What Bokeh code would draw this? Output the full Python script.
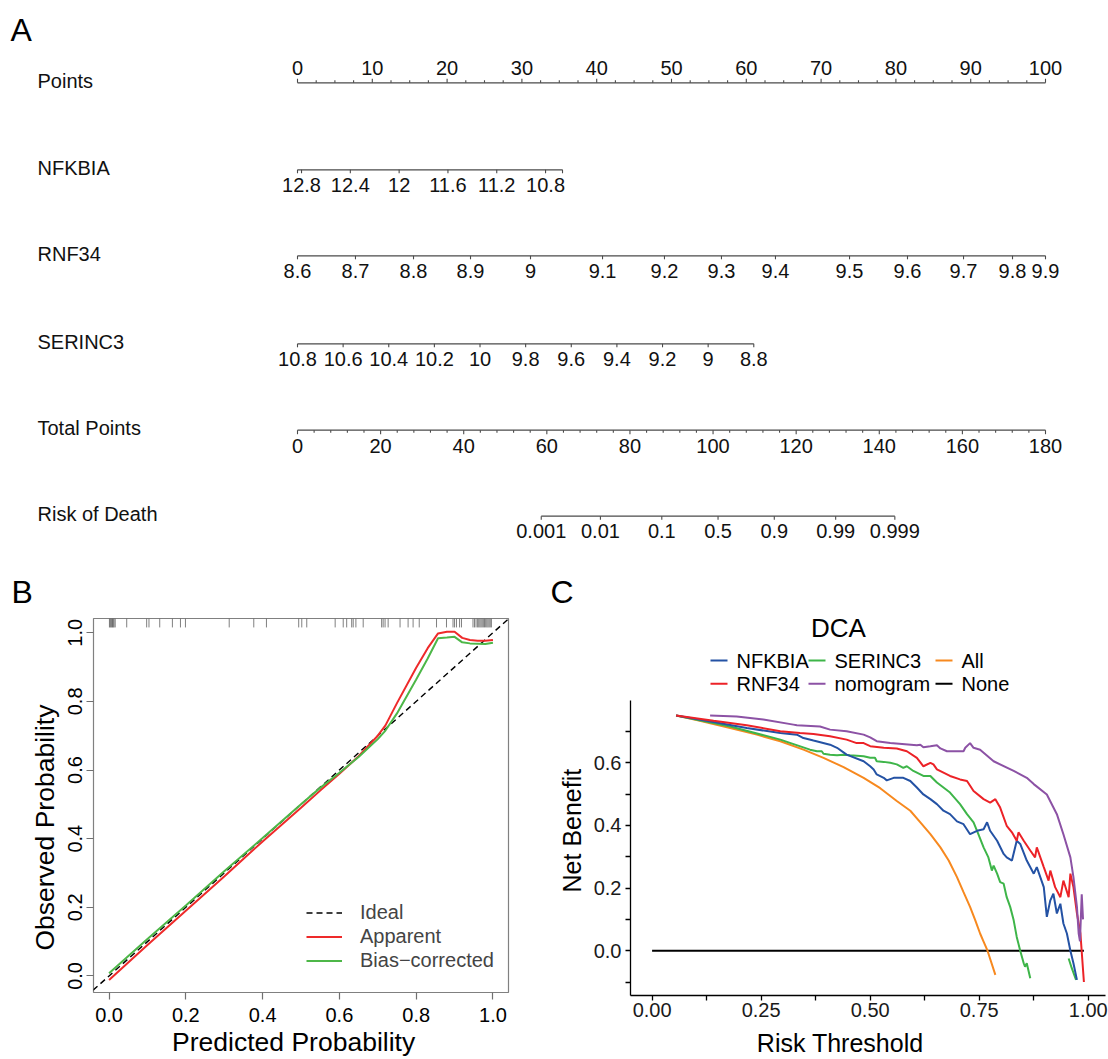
import math
from bokeh.plotting import figure
from bokeh.layouts import column, row
from bokeh.models import Range1d, FixedTicker, Legend, LegendItem, NumeralTickFormatter
from bokeh.core.properties import value
from bokeh.embed import file_html
from bokeh.resources import INLINE

FONT = "Liberation Sans"
NBSP = "\u00a0"

# ---------------- Panel A: nomogram data ----------------
row_names = ["Points", "NFKBIA", "RNF34", "SERINC3", "Total Points", "Risk of Death"]

points_major = [0, 10, 20, 30, 40, 50, 60, 70, 80, 90, 100]
points_labels = ["0", "10", "20", "30", "40", "50", "60", "70", "80", "90", "100"]
points_minor = [i * 2.5 for i in range(41)]

nfkbia_label_values = [12.8, 12.4, 12.0, 11.6, 11.2, 10.8]
nfkbia_labels = ["12.8", "12.4", "12", "11.6", "11.2", "10.8"]
nfkbia_span = [12.833, 10.661]
nfkbia_points_span = [0.0, 35.43]

# RNF34 levels and the points each level receives
rnf34_ticks = [8.6, 8.7, 8.8, 8.9, 9.0, 9.1, 9.2, 9.3, 9.4, 9.5, 9.6, 9.7, 9.8, 9.9]
rnf34_labels = ["8.6", "8.7", "8.8", "8.9", "9", "9.1", "9.2", "9.3", "9.4", "9.5",
                "9.6", "9.7", "9.8", "9.9"]
rnf34_points = [0.0, 7.75, 15.51, 23.13, 31.15, 40.78, 49.06, 56.68, 63.90, 73.80,
                81.55, 89.04, 95.59, 100.0]

serinc3_ticks = [10.8, 10.6, 10.4, 10.2, 10.0, 9.8, 9.6, 9.4, 9.2, 9.0, 8.8]
serinc3_labels = ["10.8", "10.6", "10.4", "10.2", "10", "9.8", "9.6", "9.4", "9.2", "9", "8.8"]
serinc3_span = [10.8, 8.8]
serinc3_points_span = [0.0, 61.0]

total_major = [0, 20, 40, 60, 80, 100, 120, 140, 160, 180]
total_labels = ["0", "20", "40", "60", "80", "100", "120", "140", "160", "180"]
total_minor = list(range(0, 181, 4))
total_span = [0.0, 180.0]

risk_values = [0.001, 0.01, 0.1, 0.5, 0.9, 0.99, 0.999]
risk_labels = ["0.001", "0.01", "0.1", "0.5", "0.9", "0.99", "0.999"]
risk_total_at_half = 101.2
risk_total_per_logit = 6.16

# ---------------- Panel B: calibration data ----------------
cal_pred = [0.0, 0.1, 0.2, 0.3, 0.4, 0.5, 0.55, 0.6, 0.65, 0.7, 0.72, 0.75, 0.8, 0.83,
            0.857, 0.88, 0.9, 0.92, 0.94, 0.96, 0.98, 1.0]
cal_apparent = [-0.012, 0.09, 0.19, 0.29, 0.392, 0.49, 0.54, 0.589, 0.64, 0.70, 0.73,
                0.795, 0.898, 0.955, 0.998, 1.003, 1.003, 0.985, 0.979, 0.977, 0.977, 0.979]
cal_bias = [0.008, 0.108, 0.205, 0.305, 0.402, 0.50, 0.548, 0.592, 0.638, 0.69, 0.715,
            0.765, 0.864, 0.925, 0.984, 0.986, 0.988, 0.972, 0.969, 0.968, 0.967, 0.971]
cal_rug = [0.001, 0.003, 0.005, 0.007, 0.009, 0.011, 0.013, 0.016, 0.046, 0.098, 0.104,
           0.132, 0.165, 0.186, 0.199, 0.313, 0.377, 0.41, 0.494, 0.502, 0.515, 0.589,
           0.61, 0.619, 0.632, 0.636, 0.643, 0.662, 0.71, 0.714, 0.719, 0.727, 0.758,
           0.779, 0.792, 0.808, 0.853, 0.879, 0.896, 0.9, 0.905, 0.913, 0.918, 0.948,
           0.952, 0.956, 0.96, 0.963, 0.966, 0.969, 0.972, 0.975, 0.978, 0.981, 0.984,
           0.987, 0.99, 0.993, 0.996]

# ---------------- Panel C: decision curve data ----------------
nfkbia_t = [0.055, 0.141, 0.217, 0.294, 0.332, 0.347, 0.370, 0.408, 0.424, 0.446, 0.485,
            0.500, 0.508, 0.515, 0.531, 0.538, 0.554, 0.576, 0.592, 0.607, 0.622, 0.638,
            0.653, 0.668, 0.683, 0.699, 0.714, 0.729, 0.745, 0.760, 0.768, 0.775, 0.791,
            0.806, 0.813, 0.825, 0.836, 0.844, 0.859, 0.875, 0.882, 0.898, 0.905, 0.913,
            0.920, 0.928, 0.936, 0.943, 0.951, 0.959, 0.966, 0.974]
nfkbia_nb = [0.751, 0.730, 0.711, 0.695, 0.690, 0.679, 0.671, 0.658, 0.648, 0.626, 0.605,
             0.589, 0.579, 0.563, 0.552, 0.544, 0.552, 0.552, 0.542, 0.521, 0.499, 0.484,
             0.468, 0.447, 0.436, 0.413, 0.404, 0.372, 0.383, 0.388, 0.410, 0.383, 0.351,
             0.309, 0.298, 0.288, 0.351, 0.341, 0.288, 0.246, 0.267, 0.203, 0.108, 0.161,
             0.182, 0.119, 0.150, 0.087, 0.055, 0.0, -0.040, -0.093]

rnf34_t = [0.055, 0.141, 0.217, 0.294, 0.339, 0.370, 0.408, 0.446, 0.469, 0.485, 0.500,
           0.531, 0.561, 0.584, 0.607, 0.622, 0.638, 0.645, 0.653, 0.683, 0.706, 0.722,
           0.737, 0.760, 0.775, 0.787, 0.798, 0.813, 0.825, 0.836, 0.840, 0.852, 0.867,
           0.878, 0.882, 0.898, 0.909, 0.913, 0.924, 0.936, 0.943, 0.955, 0.959, 0.966,
           0.974, 0.982, 0.990]
rnf34_nb = [0.751, 0.734, 0.720, 0.701, 0.695, 0.692, 0.685, 0.674, 0.663, 0.663, 0.653,
            0.648, 0.646, 0.637, 0.616, 0.589, 0.600, 0.595, 0.579, 0.558, 0.547, 0.542,
            0.510, 0.484, 0.473, 0.484, 0.457, 0.399, 0.378, 0.351, 0.378, 0.351, 0.320,
            0.298, 0.330, 0.267, 0.224, 0.256, 0.203, 0.171, 0.224, 0.171, 0.246, 0.203,
            0.119, 0.055, -0.100]

serinc3_t = [0.055, 0.179, 0.294, 0.362, 0.378, 0.389, 0.393, 0.408, 0.424, 0.439, 0.454,
             0.485, 0.500, 0.511, 0.515, 0.531, 0.546, 0.561, 0.576, 0.584, 0.599, 0.622,
             0.638, 0.653, 0.683, 0.706, 0.722, 0.737, 0.748, 0.760, 0.771, 0.779, 0.783,
             0.791, 0.798, 0.806, 0.813, 0.821, 0.829, 0.836, 0.844, 0.852, 0.855, 0.859,
             0.867]
serinc3_nb = [0.751, 0.716, 0.674, 0.642, 0.637, 0.637, 0.629, 0.626, 0.624, 0.626, 0.624,
              0.621, 0.616, 0.616, 0.605, 0.603, 0.600, 0.595, 0.584, 0.589, 0.574, 0.558,
              0.558, 0.537, 0.505, 0.468, 0.436, 0.410, 0.372, 0.330, 0.298, 0.256, 0.272,
              0.246, 0.219, 0.214, 0.171, 0.140, 0.097, 0.044, 0.0, -0.040, -0.051, -0.040,
              -0.088]
serinc3_t2 = [0.955, 0.962, 0.972]
serinc3_nb2 = [-0.025, -0.055, -0.093]

nomogram_t = [0.133, 0.194, 0.255, 0.324, 0.332, 0.385, 0.408, 0.446, 0.485, 0.500, 0.515,
              0.546, 0.607, 0.615, 0.622, 0.638, 0.653, 0.661, 0.676, 0.714, 0.718, 0.729,
              0.737, 0.752, 0.783, 0.829, 0.859, 0.875, 0.905, 0.928, 0.943, 0.959, 0.966,
              0.974, 0.978, 0.981, 0.985, 0.988]
nomogram_nb = [0.751, 0.748, 0.738, 0.722, 0.720, 0.716, 0.706, 0.701, 0.690, 0.681, 0.669,
               0.663, 0.656, 0.658, 0.650, 0.653, 0.656, 0.646, 0.637, 0.637, 0.648, 0.663,
               0.648, 0.642, 0.605, 0.574, 0.552, 0.532, 0.499, 0.436, 0.372, 0.298, 0.235,
               0.140, 0.055, 0.030, 0.180, 0.100]

all_t = [0.055, 0.102, 0.179, 0.240, 0.294, 0.347, 0.393, 0.439, 0.485, 0.523, 0.561, 0.592,
         0.615, 0.638, 0.661, 0.680, 0.699, 0.714, 0.729, 0.741, 0.752, 0.760, 0.769, 0.787]
all_nb = [0.751, 0.737, 0.711, 0.690, 0.669, 0.642, 0.616, 0.586, 0.552, 0.519, 0.478, 0.447,
          0.410, 0.372, 0.330, 0.288, 0.235, 0.187, 0.140, 0.097, 0.055, 0.029, 0.000, -0.077]

none_t = [0.0, 0.99]
none_nb = [0.0, 0.0]

dca_names = ["NFKBIA", "SERINC3", "All", "RNF34", "nomogram", "None"]
dca_colors = ["#2452A4", "#3EB549", "#F7891F", "#EC2227", "#8C52A5", "#000000"]

# ======================= Panel A =======================
NOM_W, NOM_H = 1108, 610
PX0, PX_PER_PT = 297.0, 7.48
row_line_y = [82.3, 169.3, 255.3, 343.3, 429.7, 515.7]
AX_COL = "#4a4a4a"
TXT_COL = "#111111"
NOM_FS = "20px"

nom = figure(width=NOM_W, height=NOM_H,
             x_range=Range1d(-PX0 / PX_PER_PT, (NOM_W - PX0) / PX_PER_PT),
             y_range=Range1d(NOM_H, 0),
             x_axis_location=None, y_axis_location=None,
             toolbar_location=None, output_backend="svg", min_border=0)
nom.outline_line_color = None
nom.xgrid.visible = False
nom.ygrid.visible = False


def lin(v, span, pspan):
    return pspan[0] + (v - span[0]) / (span[1] - span[0]) * (pspan[1] - pspan[0])


def nom_axis(y, p_start, p_end, tick_pts, tick_lens, lab_pts, labs, lab_dy):
    nom.segment(x0=[p_start], y0=[y], x1=[p_end], y1=[y], line_color=AX_COL, line_width=1.2)
    nom.segment(x0=tick_pts, y0=[y] * len(tick_pts), x1=tick_pts,
                y1=[y + d for d in tick_lens], line_color=AX_COL, line_width=1.1)
    nom.text(x=lab_pts, y=[y + lab_dy] * len(lab_pts), text=labs,
             text_font=value(FONT), text_font_size=NOM_FS, text_color=TXT_COL,
             text_align="center", text_baseline="middle")


# Points
nom_axis(row_line_y[0], 0, 100, points_minor,
         [-4 if (v % 10 == 0) else -2.5 for v in points_minor],
         points_major, points_labels, -15)
# NFKBIA
nfk_p = [lin(v, nfkbia_span, nfkbia_points_span) for v in nfkbia_label_values]
nfk_ends = [lin(v, nfkbia_span, nfkbia_points_span) for v in nfkbia_span]
nom_axis(row_line_y[1], nfk_ends[0], nfk_ends[1], nfk_p + nfk_ends,
         [3.5] * (len(nfk_p) + 2), nfk_p, nfkbia_labels, 15)
# RNF34
nom_axis(row_line_y[2], rnf34_points[0], rnf34_points[-1], rnf34_points,
         [3.5] * len(rnf34_points), rnf34_points, rnf34_labels, 15)
# SERINC3
nom_axis(row_line_y[3], lin(serinc3_span[0], serinc3_span, serinc3_points_span),
         lin(serinc3_span[1], serinc3_span, serinc3_points_span),
         [lin(v, serinc3_span, serinc3_points_span) for v in serinc3_ticks],
         [3.5] * len(serinc3_ticks),
         [lin(v, serinc3_span, serinc3_points_span) for v in serinc3_ticks],
         serinc3_labels, 15)
# Total points
tot = lambda v: lin(v, total_span, [0.0, 100.0])
nom_axis(row_line_y[4], tot(0), tot(180), [tot(v) for v in total_minor],
         [4 if v % 20 == 0 else 2.5 for v in total_minor],
         [tot(v) for v in total_major], total_labels, 16)
# Risk of death
risk_pts = [tot(risk_total_at_half + risk_total_per_logit * math.log(r / (1 - r)))
            for r in risk_values]
nom_axis(row_line_y[5], risk_pts[0], risk_pts[-1], risk_pts, [3.5] * len(risk_pts),
         risk_pts, risk_labels, 15)

# row names
nom.text(x=[(37 - PX0) / PX_PER_PT] * len(row_names), y=[v - 2 for v in row_line_y],
         text=row_names, text_font=value(FONT), text_font_size=NOM_FS, text_color=TXT_COL,
         text_align="left", text_baseline="middle")
# panel letters
nom.text(x=[(10 - PX0) / PX_PER_PT, (11 - PX0) / PX_PER_PT, (550 - PX0) / PX_PER_PT],
         y=[29, 591, 591], text=["A", "B", "C"], text_font=value(FONT),
         text_font_size="32px", text_color="#000000", text_align="left",
         text_baseline="middle")

# ======================= Panel B =======================
cal = figure(width=554, height=449, x_range=Range1d(-0.0405, 1.0405),
             y_range=Range1d(-0.0482, 1.0415),
             min_border_left=93, min_border_right=46, min_border_top=8, min_border_bottom=63,
             toolbar_location=None, output_backend="svg")
cal.xgrid.visible = False
cal.ygrid.visible = False
cal.outline_line_color = "#808080"
cal.outline_line_width = 1.2
for ax in [cal.xaxis[0], cal.yaxis[0]]:
    ax.ticker = FixedTicker(ticks=[0.0, 0.2, 0.4, 0.6, 0.8, 1.0], minor_ticks=[])
    ax.formatter = NumeralTickFormatter(format="0.0")
    ax.axis_line_color = None
    ax.major_tick_out = 7
    ax.major_tick_in = 0
    ax.major_tick_line_color = "#707070"
    ax.major_tick_line_width = 1.2
    ax.major_label_text_font = FONT
    ax.major_label_text_font_size = "20px"
    ax.major_label_text_color = "#000000"
    ax.axis_label_text_font = FONT
    ax.axis_label_text_font_size = "26.5px"
    ax.axis_label_text_font_style = "normal"
    ax.axis_label_text_color = "#000000"
cal.xaxis.axis_label = "Predicted Probability" + NBSP * 2
cal.xaxis.major_label_standoff = 8
cal.xaxis.axis_label_standoff = 2
cal.yaxis.axis_label = "Observed Probability" + NBSP * 6
cal.yaxis.major_label_orientation = "vertical"
cal.yaxis.major_label_standoff = 4
cal.yaxis.axis_label_standoff = 6

rug_top = 1.0415
cal.segment(x0=cal_rug, y0=[rug_top] * len(cal_rug), x1=cal_rug,
            y1=[rug_top - 0.026] * len(cal_rug), line_color="#4a4a4a", line_alpha=0.7,
            line_width=1)
r_ideal = cal.line([-0.1, 1.1], [-0.1, 1.1], line_color="#000000", line_width=1.4,
                   line_dash="6 4")
r_app = cal.line(cal_pred, cal_apparent, line_color="#EE2A2A", line_width=2)
r_bias = cal.line(cal_pred, cal_bias, line_color="#4DB748", line_width=2)
leg_b = Legend(items=[LegendItem(label="Ideal", renderers=[r_ideal]),
                      LegendItem(label="Apparent", renderers=[r_app]),
                      LegendItem(label="Bias\u2212corrected", renderers=[r_bias])],
               location=(213, 20), orientation="vertical", padding=0, margin=0, spacing=1,
               glyph_width=36, glyph_height=23, label_height=23, label_standoff=18,
               label_text_font=FONT, label_text_font_size="20px",
               border_line_color=None, background_fill_alpha=0)
cal.add_layout(leg_b)

# ======================= Panel C header (title + legend) =======================
HDR_H = 90
C_LEFT, C_RIGHT = 630, 1105
hdr = figure(width=554, height=HDR_H, x_range=Range1d(C_LEFT, C_RIGHT),
             y_range=Range1d(700, 610),
             x_axis_location=None, y_axis_location=None, toolbar_location=None,
             output_backend="svg", min_border=0, min_border_left=76, min_border_right=3)
hdr.outline_line_color = None
hdr.xgrid.visible = False
hdr.ygrid.visible = False
hdr.text(x=[838], y=[627], text=["DCA"], text_font=value(FONT), text_font_size="26px",
         text_color="#000000", text_align="center", text_baseline="middle")
leg_col_x = [710, 808, 935, 710, 808, 935]
leg_row_y = [660, 660, 660, 683.3, 683.3, 683.3]
hdr.segment(x0=leg_col_x, y0=leg_row_y, x1=[v + 17 for v in leg_col_x], y1=leg_row_y,
            line_color=dca_colors, line_width=2)
hdr.text(x=[v + 26 for v in leg_col_x], y=leg_row_y, text=dca_names, text_font=value(FONT),
         text_font_size="20px", text_color="#000000", text_align="left",
         text_baseline="middle")

# ======================= Panel C =======================
dca = figure(width=554, height=449 - HDR_H, x_range=Range1d(-0.0495, 1.0395),
             y_range=Range1d(-0.143, 0.799),
             min_border_left=76, min_border_right=3, min_border_top=0, min_border_bottom=63,
             toolbar_location=None, output_backend="svg")
dca.xgrid.visible = False
dca.ygrid.visible = False
dca.outline_line_color = None
dca.xaxis.ticker = FixedTicker(ticks=[0.0, 0.25, 0.5, 0.75, 1.0],
                               minor_ticks=[0.125, 0.375, 0.625, 0.875])
dca.xaxis.formatter = NumeralTickFormatter(format="0.00")
dca.yaxis.ticker = FixedTicker(ticks=[0.0, 0.2, 0.4, 0.6],
                               minor_ticks=[-0.1, 0.1, 0.3, 0.5, 0.7])
dca.yaxis.formatter = NumeralTickFormatter(format="0.0")
for ax in [dca.xaxis[0], dca.yaxis[0]]:
    ax.axis_line_color = "#000000"
    ax.axis_line_width = 1.3
    ax.major_tick_out = 5
    ax.major_tick_in = 0
    ax.minor_tick_out = 5
    ax.minor_tick_in = 0
    ax.major_tick_line_color = "#000000"
    ax.minor_tick_line_color = "#000000"
    ax.major_tick_line_width = 1.3
    ax.minor_tick_line_width = 1.3
    ax.major_label_text_font = FONT
    ax.major_label_text_font_size = "20px"
    ax.major_label_text_color = "#1a1a1a"
    ax.axis_label_text_font = FONT
    ax.axis_label_text_font_size = "25px"
    ax.axis_label_text_font_style = "normal"
    ax.axis_label_text_color = "#000000"
dca.xaxis.axis_label = "Risk Threshold" + NBSP * 8
dca.xaxis.major_label_standoff = 2
dca.xaxis.axis_label_standoff = 9
dca.yaxis.axis_label = NBSP * 5 + "Net Benefit"
dca.yaxis.major_label_standoff = 4
dca.yaxis.axis_label_standoff = 5

LW = 2
dca.line(none_t, none_nb, line_color=dca_colors[5], line_width=LW)
dca.line(all_t, all_nb, line_color=dca_colors[2], line_width=LW)
dca.line(serinc3_t, serinc3_nb, line_color=dca_colors[1], line_width=LW)
dca.line(serinc3_t2, serinc3_nb2, line_color=dca_colors[1], line_width=LW)
dca.line(nfkbia_t, nfkbia_nb, line_color=dca_colors[0], line_width=LW)
dca.line(rnf34_t, rnf34_nb, line_color=dca_colors[3], line_width=LW)
dca.line(nomogram_t, nomogram_nb, line_color=dca_colors[4], line_width=LW)

layout = column(nom, row(cal, column(hdr, dca)))
open("out.html", "w").write(file_html(layout, INLINE))
